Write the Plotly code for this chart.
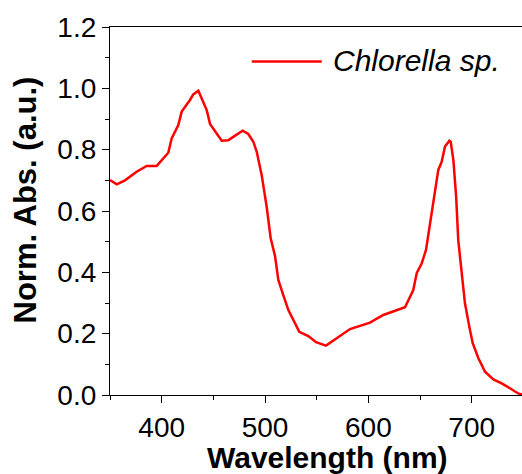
import plotly.graph_objects as go

wavelength = [350, 356.5, 364.5, 375.8, 385.5, 395.2, 406.4, 409.7, 416.1, 419.4, 427.4, 430.6, 435.5,
              443.6, 446.8, 451.6, 458.1, 464.5, 472.6, 478.4, 483.8, 488.7, 492, 496.8, 501.6, 505.5,
              509.7, 512.9, 517.7, 522.6, 533.2, 541.9, 549.4, 559, 569.4, 582.3, 601.6, 614.5, 635.5,
              643.5, 646.8, 651.6, 655.8, 659.7, 663.5, 667.7, 671, 674.2, 678.4, 679.7, 682.3, 685,
              687, 690.3, 693.5, 697.7, 701, 706.5, 712.9, 721, 729, 737, 745, 750]
absorbance = [0.701, 0.687, 0.70, 0.728, 0.747, 0.747, 0.79, 0.837, 0.88, 0.924, 0.962, 0.98, 0.992,
              0.929, 0.884, 0.859, 0.829, 0.831, 0.848, 0.862, 0.851, 0.826, 0.793, 0.717, 0.614, 0.511,
              0.453, 0.375, 0.326, 0.277, 0.206, 0.192, 0.172, 0.161, 0.185, 0.215, 0.236, 0.261, 0.286,
              0.342, 0.397, 0.429, 0.473, 0.56, 0.647, 0.734, 0.761, 0.81, 0.829, 0.826, 0.766, 0.645,
              0.505, 0.397, 0.299, 0.223, 0.169, 0.12, 0.076, 0.051, 0.038, 0.022, 0.005, 0.0]
series_name = "Chlorella sp."
x_title = "Wavelength (nm)"
y_title = "Norm. Abs. (a.u.)"
x_ticks = [400, 500, 600, 700]
y_ticks = [0.0, 0.2, 0.4, 0.6, 0.8, 1.0, 1.2]

FONT = "Arial, 'Liberation Sans', sans-serif"

fig = go.Figure()
fig.add_trace(go.Scatter(x=wavelength, y=absorbance, mode="lines", name=series_name,
                         line=dict(color="#ff0000", width=2.5), showlegend=False))

# legend drawn manually (longer line sample than plotly's default)
fig.add_shape(type="line", xref="paper", yref="paper", x0=0.344, x1=0.514, y0=0.906, y1=0.906,
              line=dict(color="#ff0000", width=2.5))
fig.add_annotation(xref="paper", yref="paper", x=0.536, y=0.908, xanchor="left", yanchor="middle",
                   text="<i>" + series_name + "</i>", showarrow=False,
                   font=dict(family=FONT, size=30, color="black"))

# axis titles as annotations for exact placement
fig.add_annotation(xref="paper", yref="paper", x=0.528, y=-0.1685, xanchor="center", yanchor="middle",
                   text="<b>" + x_title + "</b>", showarrow=False,
                   font=dict(family=FONT, size=30, color="black"))
fig.add_annotation(xref="paper", yref="paper", x=-0.205, y=0.530, xanchor="center", yanchor="middle",
                   text="<b>" + y_title + "</b>", showarrow=False, textangle=-90,
                   font=dict(family=FONT, size=31, color="black"))

fig.update_layout(
    width=522, height=474,
    margin=dict(l=110, r=0, t=27, b=79),
    plot_bgcolor="white", paper_bgcolor="white",
    font=dict(family=FONT, color="black"),
)
fig.update_xaxes(
    range=[350, 748.7], tickvals=x_ticks, ticktext=[str(v) for v in x_ticks],
    ticks="outside", ticklen=7, tickwidth=1.3, tickcolor="black",
    minor=dict(dtick=50, tick0=350, ticks="outside", ticklen=4, tickwidth=1.3, tickcolor="black"),
    showline=True, linecolor="black", linewidth=1.3, mirror=True,
    showgrid=False, zeroline=False,
    tickfont=dict(family=FONT, size=28, color="black"),
)
fig.update_yaxes(
    range=[0, 1.2], tickvals=y_ticks, ticktext=[f"{v:.1f}" for v in y_ticks],
    ticks="outside", ticklen=7, tickwidth=1.3, tickcolor="black",
    minor=dict(dtick=0.1, tick0=0, ticks="outside", ticklen=4, tickwidth=1.3, tickcolor="black"),
    showline=True, linecolor="black", linewidth=1.3, mirror=False,
    showgrid=False, zeroline=False,
    tickfont=dict(family=FONT, size=28, color="black"),
)

fig.write_html("out.html")
